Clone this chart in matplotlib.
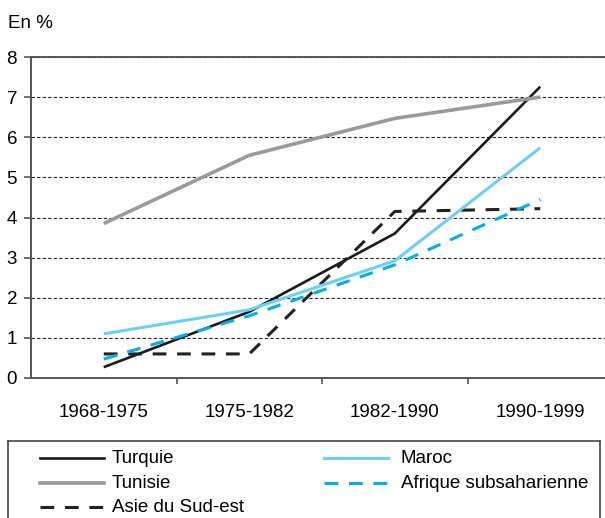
import matplotlib
matplotlib.use("Agg")
import matplotlib.pyplot as plt
from matplotlib.lines import Line2D

plt.rcParams['font.family'] = ['Liberation Sans', 'DejaVu Sans']

periods = ["1968-1975", "1975-1982", "1982-1990", "1990-1999"]
turquie = [0.27, 1.65, 3.6, 7.26]
tunisie = [3.85, 5.55, 6.47, 7.0]
asie = [0.6, 0.6, 4.15, 4.22]
maroc = [1.1, 1.7, 2.92, 5.74]
afrique = [0.47, 1.55, 2.82, 4.45]
yticks = [0, 1, 2, 3, 4, 5, 6, 7, 8]

series = [
    ("Turquie", turquie, dict(color="#1a1a1a", lw=1.9, ls="-")),
    ("Tunisie", tunisie, dict(color="#9a9a9a", lw=2.6, ls="-")),
    ("Asie du Sud-est", asie, dict(color="#222222", lw=2.2, ls=(0, (4.5, 3.5)))),
    ("Maroc", maroc, dict(color="#6dcff6", lw=2.2, ls="-")),
    ("Afrique subsaharienne", afrique, dict(color="#00aeef", lw=2.2, ls=(0, (4.5, 3.5)))),
]

W, H = 605, 518
FS = 13.5
fig = plt.figure(figsize=(W / 100, H / 100), dpi=100)

# main plot (right edge runs past the image, like the reference)
ax = fig.add_axes([31 / W, 1 - 378 / H, (613 - 31) / W, (378 - 57) / H])
x = list(range(len(periods)))
for name, vals, st in series:
    ax.plot(x, vals, color=st["color"], lw=st["lw"], linestyle=st["ls"],
            solid_capstyle="butt", dash_capstyle="butt")

ax.set_xlim(-0.5, len(periods) - 0.5)
ax.set_ylim(0, 8)
ax.set_yticks(yticks)
ax.set_xticks(x)
ax.set_xticklabels(periods, fontsize=FS)
ax.set_xticks([i + 0.5 for i in x[:-1]], minor=True)
ax.tick_params(axis="x", which="major", length=0, pad=19)
ax.tick_params(axis="x", which="minor", length=4, width=1.2, color="#555555", direction="out")
ax.tick_params(axis="y", length=5, width=1.2, color="#555555", pad=5, labelsize=FS)

ax.yaxis.grid(True, color="#222222", linestyle=(0, (3, 2)), lw=0.8)
ax.set_axisbelow(True)
ax.spines["right"].set_visible(False)
for s in ["left", "bottom", "top"]:
    ax.spines[s].set_color("#555555")
    ax.spines[s].set_linewidth(1.4)

fig.text(8 / W, 1 - 23 / H, "En %", fontsize=FS, va="center", ha="left")

# legend box (bottom runs past the image)
lg = fig.add_axes([8 / W, -20 / H, (600 - 8) / W, (538 - 441) / H])
lg.set_xlim(8, 600)
lg.set_ylim(538, 441)
lg.set_xticks([])
lg.set_yticks([])
for s in lg.spines.values():
    s.set_color("#444444")
    s.set_linewidth(1.2)
cols = [(40, 104, 112), (324, 388, 401)]
rows = [458, 483, 507]
for i, (name, vals, st) in enumerate(series):
    c, r = (0, i) if i < 3 else (1, i - 3)
    x0, x1, xt = cols[c]
    y = rows[r]
    lg.add_line(Line2D([x0, x1], [y, y], color=st["color"], lw=st["lw"],
                       linestyle=st["ls"], dash_capstyle="butt"))
    lg.text(xt, y, name, fontsize=FS, va="center", ha="left")

fig.savefig("out.png", dpi=100)
